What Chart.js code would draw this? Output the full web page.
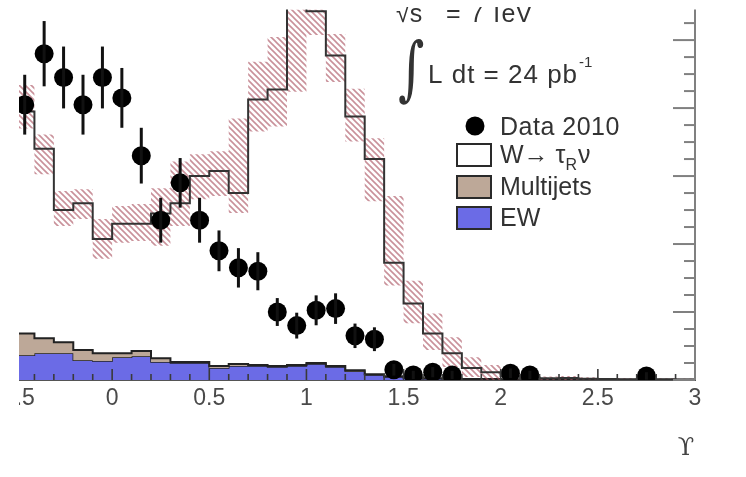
<!DOCTYPE html>
<html><head><meta charset="utf-8">
<script src="https://cdn.jsdelivr.net/npm/chart.js@4/dist/chart.umd.min.js"></script>
<style>html,body{margin:0;padding:0;background:#fff}canvas{display:block}</style>
</head><body>
<canvas id="c" width="746" height="477"></canvas>
<script>
// ---- data (events per 0.1 bin of Upsilon) ----
const binLow = [-0.5,-0.4,-0.3,-0.2,-0.1,0.0,0.1,0.2,0.3,0.4,0.5,0.6,0.7,0.8,0.9,1.0,1.1,1.2,1.3,1.4,1.5,1.6,1.7,1.8,1.9,2.0,2.1,2.2,2.3,2.4,2.5,2.6,2.7,2.8,2.9];
const binHigh = 3.0;
const ewValues = [7.3,7.9,7.9,5.8,5.6,6.7,7.0,5.3,5.0,5.0,3.5,4.1,4.1,3.8,4.1,4.7,3.8,2.6,1.5,0.9,0.6,0.4,0.3,0.2,0.2,0.1,0.1,0.1,0.1,0.1,0.1,0.05,0.05,0.05,0.05];
const multijetValues = [6.4,4.4,3.2,3.0,2.3,1.2,1.5,1.1,0.3,0.3,0.6,0.6,0.3,0.3,0.3,0.3,0.3,0.3,0.2,0.2,0.1,0.1,0.1,0.1,0.1,0.1,0,0,0,0,0,0,0,0,0];
const wTauValues = [65.3,55.7,38.9,43.2,33.6,38.1,37.5,42.6,46.7,54.7,57.4,50.3,78.1,81.4,111.6,103.5,91.4,74.6,63.3,33.4,21.8,13.2,7.5,3.2,2.0,1.0,0.6,0.4,0.5,0.3,0.2,0.2,0.2,0.2,0.1];
const bandUpper = [86.8,72.2,55.6,56.1,47.4,51.2,51.8,56.4,64.3,66.4,67.3,76.9,93.6,100.9,130,125,101.8,85.7,71.1,54.1,29.2,19.6,12.6,6.7,4.4,2.3,1.5,1.0,1.2,0.8,0.6,0.6,0.5,0.5,0.4];
const bandLower = [74.0,60.5,45.3,47.4,35.7,40.4,40.9,39.5,45.3,53.2,54.1,49.1,73.1,74.6,84.8,101.5,87.7,70.2,52.6,27.8,16.7,8.8,3.8,0.9,0,0.2,0,0,0,0,0,0,0,0,0];
const dataX = [-0.45,-0.35,-0.25,-0.15,-0.05,0.05,0.15,0.25,0.35,0.45,0.55,0.65,0.75,0.85,0.95,1.05,1.15,1.25,1.35,1.45,1.55,1.65,1.75,2.05,2.15,2.75];
const dataY = [81,96,89,81,89,83,66,47,58,47,38,33,32,20,16,20.5,21,13,12,3,1.5,2.3,1.5,2,1.5,1.2];
const dataErr = [8.8,9.6,9.1,8.8,9.1,8.8,8.2,6.6,7.3,6.6,6.0,5.8,5.6,4.1,3.8,4.4,4.5,3.6,3.5,1.7,1.2,1.5,1.2,1.4,1.2,1.1];
const xTickValues = [-0.5,0,0.5,1,1.5,2,2.5,3];
const xTickLabels = ['-0.5','0','0.5','1','1.5','2','2.5','3'];
const legendLabels = ['Data 2010','Multijets','EW'];

// ---- derived tables for the library ----
function steps(vals){
  const pts = binLow.map((x,i)=>({x:x, y:vals[i]}));
  pts.push({x:binHigh, y:vals[vals.length-1]});
  return pts;
}
const ewTop = ewValues.slice();
const mjTop = ewValues.map((v,i)=>v+multijetValues[i]);
const total = mjTop.map((v,i)=>v+wTauValues[i]);

function hatchPattern(){
  const c=document.createElement('canvas'); c.width=6; c.height=6;
  const g=c.getContext('2d');
  g.strokeStyle='rgba(168,78,92,0.62)'; g.lineWidth=1.6;
  g.beginPath();
  g.moveTo(-1,-1); g.lineTo(7,7);
  g.moveTo(-1,5); g.lineTo(1,7);
  g.moveTo(5,-1); g.lineTo(7,1);
  g.stroke();
  return g.createPattern(c,'repeat');
}

const FONT = '"Liberation Sans", Arial, sans-serif';

const deco = {
  id:'deco',
  afterDatasetsDraw(chart){
    const {ctx, chartArea:a, scales:{x,y}} = chart;
    ctx.save();
    // error bars
    ctx.strokeStyle='#111'; ctx.lineWidth=3;
    dataX.forEach((v,i)=>{
      const px=x.getPixelForValue(v);
      ctx.beginPath();
      ctx.moveTo(px, y.getPixelForValue(dataY[i]+dataErr[i]));
      ctx.lineTo(px, y.getPixelForValue(Math.max(0,dataY[i]-dataErr[i])));
      ctx.stroke();
    });
    // bottom inward ticks
    ctx.strokeStyle='#3a3a3a'; ctx.lineWidth=1.6;
    for(let k=-5;k<=30;k++){
      const px=x.getPixelForValue(k/10);
      const len = (k%5===0)?11:6;
      ctx.beginPath(); ctx.moveTo(px,a.bottom); ctx.lineTo(px,a.bottom-len); ctx.stroke();
    }
    ctx.restore();
  },
  afterDraw(chart){
    const {ctx, chartArea:a, scales:{x,y}} = chart;
    ctx.save();
    // right axis
    ctx.strokeStyle='#808080'; ctx.lineWidth=2;
    ctx.beginPath(); ctx.moveTo(a.right,a.top); ctx.lineTo(a.right,a.bottom); ctx.stroke();
    for(let v=0; v<=105; v+=5){
      const py=y.getPixelForValue(v);
      const len=(v%20===0)?22:11;
      ctx.beginPath(); ctx.moveTo(a.right,py); ctx.lineTo(a.right-len,py); ctx.stroke();
    }
    // annotations
    ctx.fillStyle='#333'; ctx.textBaseline='alphabetic'; ctx.textAlign='left';
    ctx.font='25px '+FONT;
    ctx.fillText('\u221As', 396, 22);
    ctx.fillText('=', 446, 22);
    ctx.fillText('7', 470, 22);
    ctx.fillText('TeV', 489, 22);
    ctx.save();
    ctx.font='56px "DejaVu Serif"';
    ctx.translate(398, 92); ctx.scale(0.9,1.25);
    ctx.fillText('\u222B', 0, 0);
    ctx.restore();
    ctx.font='26px '+FONT;
    ctx.letterSpacing='1px';
    ctx.fillText('L dt = 24 pb', 428, 83);
    ctx.letterSpacing='0px';
    ctx.font='15px '+FONT;
    ctx.fillText('-1', 579, 67);
    // legend
    ctx.font='25px '+FONT;
    ctx.fillStyle='#000';
    ctx.beginPath(); ctx.arc(475,126,9.5,0,Math.PI*2); ctx.fill();
    ctx.fillStyle='#333';
    ctx.letterSpacing='0.5px';
    ctx.fillText(legendLabels[0], 500, 135);
    ctx.letterSpacing='0px';
    const boxes=[[144,'#ffffff'],[176,'#bda898'],[207,'#6b6be6']];
    ctx.lineWidth=2; ctx.strokeStyle='#2a2a2a';
    boxes.forEach(([top,col])=>{ ctx.fillStyle=col; ctx.fillRect(457,top,34,22); ctx.strokeRect(457,top,34,22); });
    ctx.fillStyle='#333';
    ctx.fillText('W\u2192 \u03C4', 500, 163);
    const wW = ctx.measureText('W\u2192 \u03C4').width;
    ctx.font='16px '+FONT;
    ctx.fillText('R', 500+wW, 170);
    const rW = ctx.measureText('R').width;
    ctx.font='25px '+FONT;
    ctx.fillText('\u03BD', 500+wW+rW+1, 163);
    ctx.fillText(legendLabels[1], 500, 195);
    ctx.fillText(legendLabels[2], 500, 226);
    // axis title (TeX-style Upsilon with hooks)
    ctx.font='24px "DejaVu Serif", serif';
    ctx.fillStyle='#444'; ctx.textAlign='center'; ctx.textBaseline='middle';
    ctx.fillText('\u03D2', 686, 449);
    // crop masks (reference is a cropped figure)
    ctx.fillStyle='#fff';
    ctx.fillRect(0,0,19,477);
    ctx.fillRect(0,0,746,7);
    ctx.restore();
  }
};

new Chart(document.getElementById('c'), {
  type:'line',
  data:{
    datasets:[
      { label:'Data 2010', data:dataX.map((v,i)=>({x:v,y:dataY[i]})), showLine:false,
        pointRadius:9.5, pointHoverRadius:9.5, pointBackgroundColor:'#000', pointBorderWidth:0, order:0 },
      { label:'total', data:steps(total), stepped:'before', borderColor:'#333', borderWidth:2,
        pointRadius:0, fill:false, order:1 },
      { label:'band up', data:steps(bandUpper), stepped:'before', borderWidth:0, borderColor:'rgba(0,0,0,0)',
        pointRadius:0, fill:{target:3}, backgroundColor:hatchPattern(), order:2 },
      { label:'band lo', data:steps(bandLower), stepped:'before', borderWidth:0, borderColor:'rgba(0,0,0,0)',
        pointRadius:0, fill:false, order:3 },
      { label:'Multijets', data:steps(mjTop), stepped:'before', borderColor:'#222', borderWidth:2,
        pointRadius:0, fill:{target:5}, backgroundColor:'#bda898', order:4 },
      { label:'EW', data:steps(ewTop), stepped:'before', borderColor:'#222', borderWidth:1.5,
        pointRadius:0, fill:'origin', backgroundColor:'#6b6be6', order:5 }
    ]
  },
  options:{
    responsive:false, animation:false, devicePixelRatio:1,
    layout:{padding:{left:15,right:51,top:7,bottom:0}},
    plugins:{legend:{display:false}, tooltip:{enabled:false}},
    scales:{
      x:{ type:'linear', min:-0.5, max:3, z:1,
        grid:{display:false, drawTicks:false},
        border:{display:true, color:'#555', width:2},
        afterBuildTicks:(s)=>{ s.ticks = xTickValues.map(v=>({value:v})); },
        afterFit:(s)=>{ s.height=97; s.paddingLeft=0; s.paddingRight=0; },
        ticks:{ autoSkip:false, maxRotation:0, padding:5, color:'#4a4a4a',
          font:{family:'"Liberation Sans", Arial, sans-serif', size:23},
          callback:(v)=>{ const i=xTickValues.indexOf(v); return i>=0?xTickLabels[i]:''; } }
      },
      y:{ type:'linear', min:0, max:109, display:false }
    }
  },
  plugins:[deco]
});
</script>
</body></html>
